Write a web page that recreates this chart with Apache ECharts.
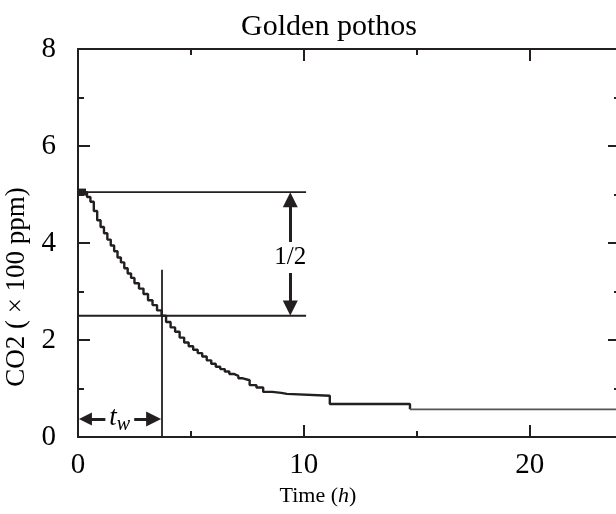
<!DOCTYPE html>
<html>
<head>
<meta charset="utf-8">
<script src="https://cdn.jsdelivr.net/npm/echarts@6/dist/echarts.min.js"></script>
<style>html,body{margin:0;padding:0;background:#fff}#c{width:616px;height:514px}</style>
</head>
<body>
<div id="c"></div>
<script>
// ---- data ----
var timeH = [0.2,0.4,0.55,0.7,0.85,1.0,1.15,1.3,1.45,1.6,1.75,1.9,2.05,2.2,2.35,2.5,2.7,2.9,3.1,3.3,3.5,3.7,3.9,4.1,4.3,4.5,4.7,4.9,5.1,5.3,5.5,5.7,5.9,6.1,6.3,6.5,6.7,6.9,7.1,7.3,7.6,7.9,8.2,8.6,9.0,9.25,11.15,14.7];
var co2 = [5.05,4.95,4.85,4.66,4.47,4.33,4.2,4.07,3.95,3.83,3.7,3.6,3.48,3.37,3.28,3.17,3.06,2.95,2.82,2.72,2.61,2.5,2.37,2.26,2.17,2.05,1.95,1.87,1.8,1.73,1.66,1.58,1.51,1.45,1.4,1.35,1.3,1.26,1.21,1.17,1.07,1.02,0.93,0.91,0.89,0.85,0.68,0.57];
var tailTime = [14.7, 24];
var tailCo2 = [0.57, 0.57];
var startLevel = 5.05, halfLevel = 2.5, refLineEnd = 10.1;
var twTime = 3.72, twLineTop = 3.45;
var arrowX = 9.4;
var upArrow = [[arrowX, 3.96], [arrowX, 4.89]];
var downArrow = [[arrowX, 3.42], [arrowX, 2.66]];
var twArrow = [[0.33, 0.37], [3.35, 0.37]];
var halfLabelPos = [9.4, 3.7];
var twLabelPos = [1.85, 0.4];
var xTicks = [0, 10, 20];
var yTicks = [0, 2, 4, 6, 8];

var INK = '#231f20';
var FONT = 'Liberation Serif';

function zip(a, b) { return a.map(function (v, i) { return [v, b[i]]; }); }

var chart = echarts.init(document.getElementById('c'), null, {renderer: 'canvas'});

function axisCommon(showLabel) {
  return {
    axisLine: {show: true, onZero: false, lineStyle: {color: INK, width: 2}},
    axisTick: {show: true, inside: true, length: 12, lineStyle: {color: INK, width: 2}},
    minorTick: {show: true, splitNumber: 2, length: 6, lineStyle: {color: INK, width: 2}},
    splitLine: {show: false},
    axisLabel: {show: showLabel, color: '#000', fontFamily: FONT, fontSize: 28, margin: 16}
  };
}

var option = {
  animation: false,
  backgroundColor: '#fff',
  title: {
    text: 'Golden pothos',
    left: 324, top: 7, textAlign: 'center',
    textStyle: {fontFamily: FONT, fontSize: 30, fontWeight: 'normal', color: '#000'}
  },
  grid: {left: 78, right: -4, top: 49, bottom: 77, containLabel: false, outerBoundsMode: 'none'},
  xAxis: [
    Object.assign(axisCommon(true), {
      type: 'value', position: 'bottom', min: 0, max: 24, interval: 10,
      name: '{n|Time (}{i|h}{n|)}', nameLocation: 'middle', nameGap: 40,
      nameTextStyle: {padding: [0, 62, 0, 0], rich: {n: {fontFamily: FONT, fontSize: 22, color: '#000'}, i: {fontFamily: FONT, fontSize: 22, fontStyle: 'italic', color: '#000'}}},
      axisLabel: {show: true, color: '#000', fontFamily: FONT, fontSize: 29, margin: 14, showMaxLabel: false,
        formatter: function (v) { return xTicks.indexOf(v) >= 0 ? String(v) : ''; }}
    }),
    Object.assign(axisCommon(false), {type: 'value', position: 'top', min: 0, max: 24, interval: 10})
  ],
  yAxis: [
    Object.assign(axisCommon(true), {
      type: 'value', position: 'left', min: 0, max: 8, interval: 2,
      name: 'CO2 ( × 100 ppm)', nameLocation: 'middle', nameGap: 42, nameRotate: 90,
      nameTextStyle: {fontFamily: FONT, fontSize: 27, color: '#000', padding: [0, 88, 0, 0]},
      axisLabel: {show: true, color: '#000', fontFamily: FONT, fontSize: 29, margin: 22,
        formatter: function (v) { return yTicks.indexOf(v) >= 0 ? String(v) : ''; }}
    }),
    Object.assign(axisCommon(false), {type: 'value', position: 'right', min: 0, max: 8, interval: 2})
  ],
  series: [
    {type: 'line', step: 'end', data: zip(timeH, co2), showSymbol: false, lineStyle: {color: INK, width: 2.4}, z: 5},
    {type: 'line', data: zip(tailTime, tailCo2), showSymbol: false, lineStyle: {color: '#555', width: 1.8}, z: 5},
    {type: 'scatter', data: [[timeH[0], co2[0]]], symbol: 'rect', symbolSize: 7, itemStyle: {color: INK, opacity: 1}, z: 6},
    {type: 'line', data: [[0, startLevel], [refLineEnd, startLevel]], showSymbol: false, lineStyle: {color: INK, width: 1.8}},
    {type: 'line', data: [[0, halfLevel], [refLineEnd, halfLevel]], showSymbol: false, lineStyle: {color: INK, width: 1.8}},
    {type: 'line', data: [[twTime, 0], [twTime, twLineTop]], showSymbol: false, lineStyle: {color: INK, width: 1.8}},
    {type: 'lines', coordinateSystem: 'cartesian2d', symbol: ['none', 'triangle'], symbolSize: [13, 15],
      lineStyle: {color: INK, width: 3, opacity: 1}, z: 3,
      data: [{coords: upArrow}, {coords: downArrow}]},
    {type: 'lines', coordinateSystem: 'cartesian2d', symbol: ['triangle', 'triangle'], symbolSize: [13, 15],
      lineStyle: {color: INK, width: 3, opacity: 1}, z: 3,
      data: [{coords: twArrow}]},
    {type: 'scatter', symbolSize: 0, data: [halfLabelPos], silent: true, z: 10, itemStyle: {opacity: 1},
      label: {show: true, position: 'inside', formatter: '1/2', fontFamily: FONT, fontSize: 25, color: '#000',
        textBorderWidth: 0, backgroundColor: '#fff', padding: [3, 0]}},
    {type: 'scatter', symbolSize: 0, data: [twLabelPos], silent: true, z: 10, itemStyle: {opacity: 1},
      label: {show: true, position: 'inside', formatter: '{t|t}{w|w}', backgroundColor: '#fff', padding: [0, 4], textBorderWidth: 0,
        rich: {t: {fontFamily: FONT, fontSize: 27, fontStyle: 'italic', color: '#000', textBorderWidth: 0},
               w: {fontFamily: FONT, fontSize: 20, fontStyle: 'italic', color: '#000', textBorderWidth: 0, verticalAlign: 'bottom', padding: [14, 0, 0, 0]}}}}
  ]
};
chart.setOption(option);
</script>
</body>
</html>
